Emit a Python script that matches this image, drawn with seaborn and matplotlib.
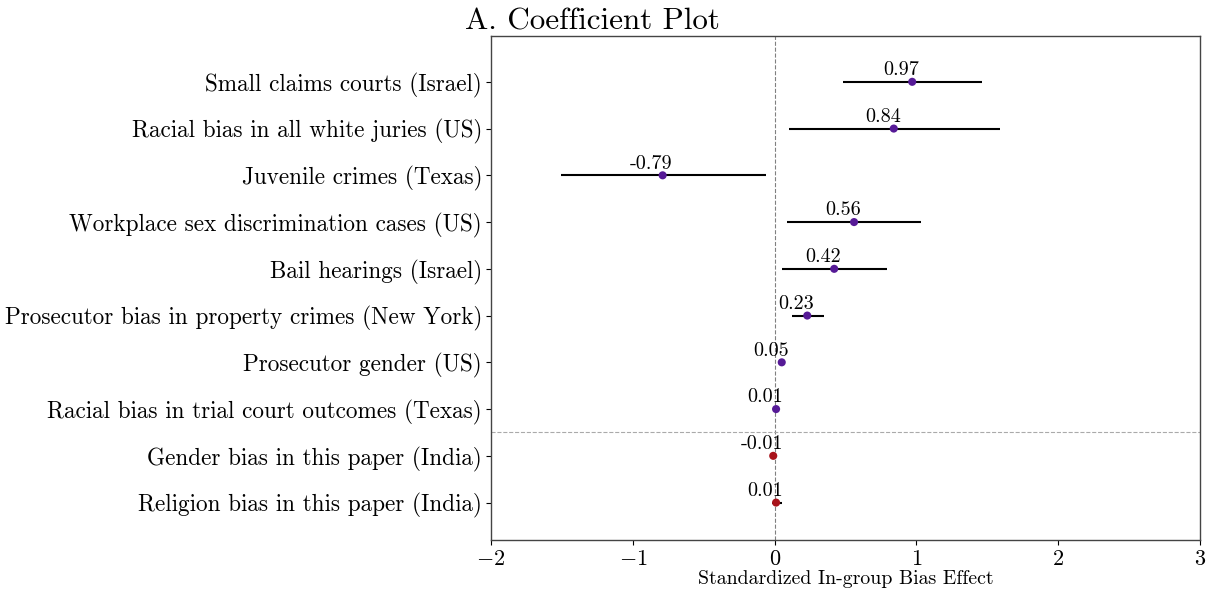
import matplotlib
matplotlib.use("Agg")
import matplotlib.pyplot as plt
import seaborn as sns
import pandas as pd
import numpy as np

studies = [
    "Small claims courts (Israel)",
    "Racial bias in all white juries (US)",
    "Juvenile crimes (Texas)",
    "Workplace sex discrimination cases (US)",
    "Bail hearings (Israel)",
    "Prosecutor bias in property crimes (New York)",
    "Prosecutor gender (US)",
    "Racial bias in trial court outcomes (Texas)",
    "Gender bias in this paper (India)",
    "Religion bias in this paper (India)",
]
effects = [0.97, 0.84, -0.79, 0.56, 0.42, 0.23, 0.05, 0.01, -0.01, 0.01]
ci_low = [0.48, 0.10, -1.51, 0.09, 0.05, 0.12, 0.04, 0.00, -0.02, -0.02]
ci_high = [1.46, 1.59, -0.06, 1.03, 0.79, 0.35, 0.06, 0.02, 0.00, 0.05]
source = ["Literature"] * 8 + ["This paper"] * 2

sns.set_theme(style="ticks")
plt.rcParams["font.family"] = ["cmr10", "DejaVu Serif"]
plt.rcParams["mathtext.fontset"] = "cm"
plt.rcParams["axes.formatter.use_mathtext"] = True
plt.rcParams["axes.unicode_minus"] = True
for key in ["text.color", "axes.labelcolor", "xtick.color", "ytick.color"]:
    plt.rcParams[key] = "black"

df = pd.DataFrame({
    "study": studies,
    "pos": np.arange(len(studies)),
    "effect": effects,
    "lo": ci_low,
    "hi": ci_high,
    "source": source,
})

fig = plt.figure(figsize=(12.14, 5.93), dpi=100)
ax = fig.add_axes([0.4045, 0.0894, 0.5840, 0.8499])

# confidence intervals
ax.hlines(df["pos"], df["lo"], df["hi"], color="black", linewidth=1.5, zorder=2)

sns.scatterplot(
    data=df, x="effect", y="pos", hue="source",
    palette={"Literature": "#561a96", "This paper": "#a8121a"},
    s=34, edgecolor="none", legend=False, zorder=3, ax=ax,
)

for _, r in df.iterrows():
    ax.annotate(f"{r['effect']:.2f}", (r["effect"], r["pos"]),
                xytext=(-8, 2), textcoords="offset points",
                ha="center", va="bottom", fontsize=14.5)

ax.axvline(0, color="grey", linestyle="--", linewidth=0.8, zorder=1)
ax.axhline(7.5, color="#aaaaaa", linestyle="--", linewidth=0.8, zorder=1)

ax.set_xlim(-2, 3)
ax.set_ylim(9.8, -0.98)
ax.set_xticks([-2, -1, 0, 1, 2, 3])
ax.set_yticks(df["pos"])
ax.set_yticklabels(df["study"], fontsize=16.7)
ax.tick_params(axis="both", length=3.5, width=0.8, pad=3)
ax.tick_params(axis="x", labelsize=16)
ax.set_xlabel("Standardized In-group Bias Effect", fontsize=14.3, labelpad=1)
ax.set_ylabel("")
for sp in ax.spines.values():
    sp.set_visible(True)
    sp.set_color("#444444")
    sp.set_linewidth(1.0)

fig.text(0.4876, 0.95, "A. Coefficient Plot", ha="center", va="baseline", fontsize=22.4)

fig.savefig("out.png", dpi=100)
